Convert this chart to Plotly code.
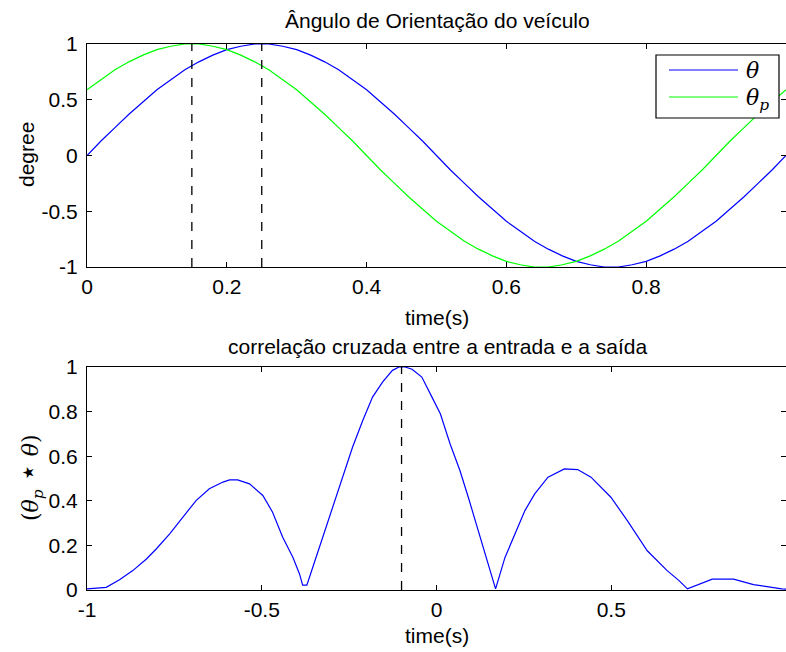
import plotly.graph_objects as go

# ---- data ----
t = [0.00, 0.02, 0.04, 0.06, 0.08, 0.10, 0.12, 0.14, 0.16, 0.18, 0.20, 0.22, 0.24, 0.26, 0.28,
     0.30, 0.32, 0.34, 0.36, 0.38, 0.40, 0.42, 0.44, 0.46, 0.48, 0.50, 0.52, 0.54, 0.56, 0.58,
     0.60, 0.62, 0.64, 0.66, 0.68, 0.70, 0.72, 0.74, 0.76, 0.78, 0.80, 0.82, 0.84, 0.86, 0.88,
     0.90, 0.92, 0.94, 0.96, 0.98, 1.00]
theta = [0.00, 0.13, 0.25, 0.37, 0.48, 0.59, 0.68, 0.77, 0.84, 0.90, 0.95, 0.98, 1.00, 1.00, 0.98,
         0.95, 0.90, 0.84, 0.77, 0.68, 0.59, 0.48, 0.37, 0.25, 0.13, 0.00, -0.13, -0.25, -0.37, -0.48,
         -0.59, -0.68, -0.77, -0.84, -0.90, -0.95, -0.98, -1.00, -1.00, -0.98, -0.95, -0.90, -0.84, -0.77, -0.68,
         -0.59, -0.48, -0.37, -0.25, -0.13, 0.00]
theta_p = [0.59, 0.68, 0.77, 0.84, 0.90, 0.95, 0.98, 1.00, 1.00, 0.98, 0.95, 0.90, 0.84, 0.77, 0.68,
           0.59, 0.48, 0.37, 0.25, 0.13, 0.00, -0.13, -0.25, -0.37, -0.48, -0.59, -0.68, -0.77, -0.84, -0.90,
           -0.95, -0.98, -1.00, -1.00, -0.98, -0.95, -0.90, -0.84, -0.77, -0.68, -0.59, -0.48, -0.37, -0.25, -0.13,
           0.00, 0.13, 0.25, 0.37, 0.48, 0.59]
peaks_top = [0.15, 0.25]

lag = [-1.00, -0.973, -0.945, -0.907, -0.869, -0.830, -0.802, -0.764, -0.726, -0.688, -0.650, -0.611,
       -0.592, -0.569, -0.535, -0.497, -0.469, -0.440, -0.411, -0.392, -0.383, -0.371, -0.354, -0.326,
       -0.297, -0.269, -0.240, -0.211, -0.183, -0.154, -0.126, -0.107, -0.090, -0.070, -0.042, -0.013,
       0.011, 0.039, 0.067, 0.091, 0.120, 0.143, 0.169, 0.196, 0.224, 0.253, 0.281, 0.319, 0.366,
       0.404, 0.442, 0.499, 0.546, 0.603, 0.660, 0.694, 0.718, 0.789, 0.850, 0.907, 0.988, 1.00]
xcorr = [0.005, 0.010, 0.012, 0.046, 0.087, 0.139, 0.184, 0.251, 0.326, 0.401, 0.454, 0.484,
         0.494, 0.494, 0.476, 0.424, 0.349, 0.237, 0.147, 0.072, 0.022, 0.022, 0.102, 0.237,
         0.371, 0.506, 0.641, 0.760, 0.865, 0.933, 0.985, 1.000, 1.000, 0.990, 0.955, 0.865,
         0.790, 0.655, 0.536, 0.416, 0.266, 0.146, 0.005, 0.146, 0.251, 0.356, 0.431, 0.506, 0.543,
         0.540, 0.506, 0.416, 0.311, 0.176, 0.087, 0.042, 0.005, 0.049, 0.049, 0.024, 0.005, 0.004]
peak_lag = [-0.1]

top_xticks = [0, 0.2, 0.4, 0.6, 0.8]
top_yticks = [-1, -0.5, 0, 0.5, 1]
bot_xticks = [-1, -0.5, 0, 0.5]
bot_yticks = [0, 0.2, 0.4, 0.6, 0.8, 1]

W, H = 786, 652
L = 87
FONT = "Liberation Sans, Arial, sans-serif"
SERIF = "DejaVu Serif, Liberation Serif, serif"

def px_x(p):
    return (p - L) / (W - L)

def px_y(p):
    return 1 - p / H

fig = go.Figure()

fig.add_trace(go.Scatter(x=t, y=theta, mode="lines", name="θ",
                         line=dict(color="#0000FF", width=1.2), xaxis="x", yaxis="y"))
fig.add_trace(go.Scatter(x=t, y=theta_p, mode="lines", name="θp",
                         line=dict(color="#00FF00", width=1.2), xaxis="x", yaxis="y"))
for xv in peaks_top:
    fig.add_trace(go.Scatter(x=[xv, xv], y=[-1, 1], mode="lines", showlegend=False,
                             line=dict(color="black", width=1.3, dash="dash"), xaxis="x", yaxis="y"))

fig.add_trace(go.Scatter(x=lag, y=xcorr, mode="lines", name="xcorr",
                         line=dict(color="#0000FF", width=1.2), xaxis="x2", yaxis="y2"))
for xv in peak_lag:
    fig.add_trace(go.Scatter(x=[xv, xv], y=[0, 1], mode="lines", showlegend=False,
                             line=dict(color="black", width=1.3, dash="dash"), xaxis="x2", yaxis="y2"))

axis_common = dict(showgrid=False, zeroline=False, showline=True, linecolor="black", linewidth=1,
                   mirror="ticks", ticks="inside", ticklen=5, tickcolor="black", automargin=False,
                   tickfont=dict(family=FONT, size=21, color="black"))

fig.update_layout(
    width=W, height=H,
    margin=dict(l=L, r=0, t=0, b=0, autoexpand=False),
    paper_bgcolor="white", plot_bgcolor="white",
    showlegend=False,
    xaxis=dict(domain=[0, 1], range=[0, 1], tickvals=top_xticks, anchor="y",
               ticklabelstandoff=1, **axis_common),
    yaxis=dict(domain=[px_y(267), px_y(44)], range=[-1, 1], tickvals=top_yticks, anchor="x",
               ticktext=["-1", "-0.5", "0", "0.5", "1"], ticklabelstandoff=4, **axis_common),
    xaxis2=dict(domain=[0, 1], range=[-1, 1], tickvals=bot_xticks, anchor="y2",
                ticktext=["-1", "-0.5", "0", "0.5"], ticklabelstandoff=1, **axis_common),
    yaxis2=dict(domain=[px_y(590), px_y(367)], range=[0, 1], tickvals=bot_yticks, anchor="x2",
                ticktext=["0", "0.2", "0.4", "0.6", "0.8", "1"], ticklabelstandoff=4, **axis_common),
)

def ann(text, x, y, size=21, angle=0, family=FONT):
    fig.add_annotation(text=text, x=x, y=y, xref="paper", yref="paper", showarrow=False,
                       xanchor="center", yanchor="middle", textangle=angle,
                       font=dict(family=family, size=size, color="black"))

ann("Ângulo de Orientação do veículo", px_x(437), px_y(20))
ann("time(s)", px_x(437), px_y(317))
ann("degree", px_x(27), px_y(155), angle=-90)
ann("correlação cruzada entre a entrada e a saída", px_x(437), px_y(346))
ann("time(s)", px_x(437), px_y(635))
ann("(<i>θ<sub>p</sub></i> <span style='font-size:30px'>⋆</span> <i>θ</i>)",
    px_x(28), px_y(478), size=22, angle=-90, family=SERIF)

# legend box (drawn manually to match the long sample lines)
fig.add_shape(type="rect", xref="paper", yref="paper",
              x0=px_x(656), x1=px_x(779), y0=px_y(118), y1=px_y(55),
              line=dict(color="black", width=1.2), fillcolor="white", layer="above")
fig.add_shape(type="line", xref="paper", yref="paper",
              x0=px_x(669), x1=px_x(738), y0=px_y(70), y1=px_y(70),
              line=dict(color="#0000FF", width=1.2), layer="above")
fig.add_shape(type="line", xref="paper", yref="paper",
              x0=px_x(669), x1=px_x(738), y0=px_y(97), y1=px_y(97),
              line=dict(color="#00FF00", width=1.2), layer="above")
fig.add_annotation(text="<i>θ</i>", x=px_x(744), y=px_y(70), xref="paper", yref="paper",
                   showarrow=False, xanchor="left", yanchor="middle",
                   font=dict(family=SERIF, size=22, color="black"))
fig.add_annotation(text="<i>θ<sub>p</sub></i>", x=px_x(744), y=px_y(99), xref="paper", yref="paper",
                   showarrow=False, xanchor="left", yanchor="middle",
                   font=dict(family=SERIF, size=22, color="black"))

fig.write_html("out.html")
